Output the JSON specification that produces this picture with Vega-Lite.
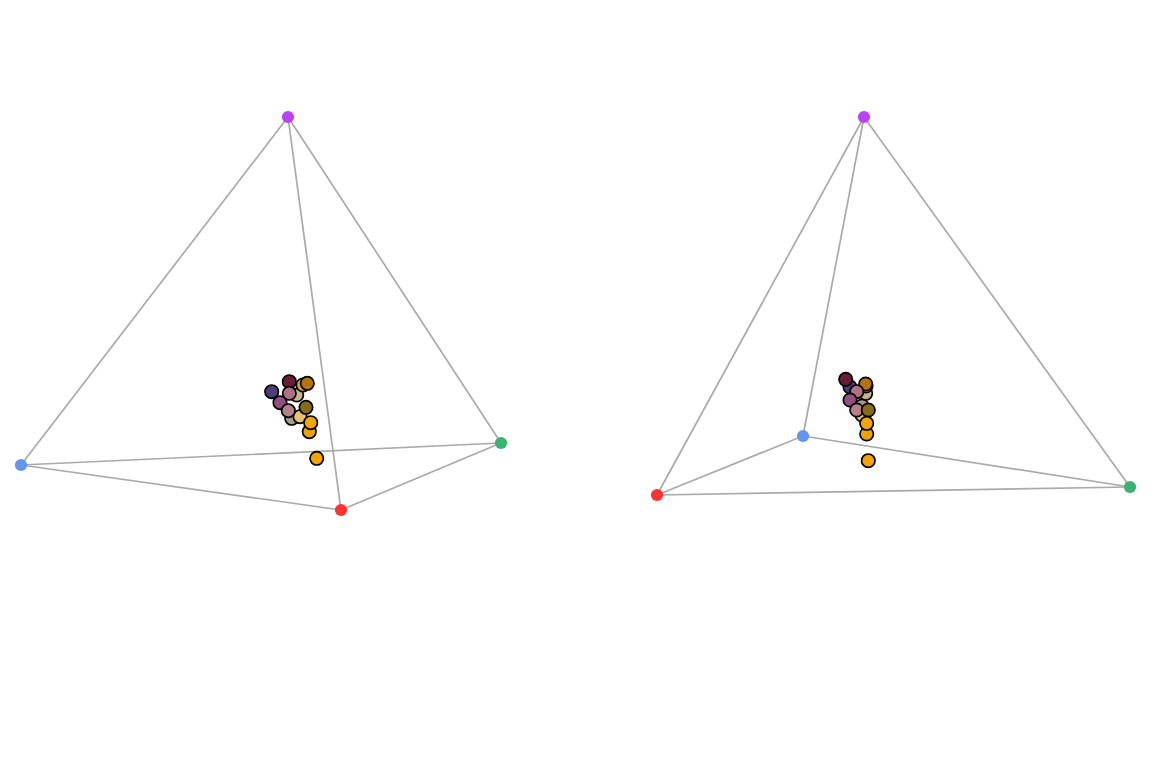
{
  "$schema": "https://vega.github.io/schema/vega-lite/v6.json",
  "padding": 0,
  "background": "white",
  "spacing": 0,
  "config": {"view": {"stroke": null}, "concat": {"spacing": 0}},
  "datasets": {
    "edges": [
      {"panel": 1, "x": 288, "y": 117, "x2": 21, "y2": 465},
      {"panel": 1, "x": 288, "y": 117, "x2": 341, "y2": 510},
      {"panel": 1, "x": 288, "y": 117, "x2": 501, "y2": 443},
      {"panel": 1, "x": 21, "y": 465, "x2": 341, "y2": 510},
      {"panel": 1, "x": 21, "y": 465, "x2": 501, "y2": 443},
      {"panel": 1, "x": 341, "y": 510, "x2": 501, "y2": 443},
      {"panel": 2, "x": 864, "y": 117, "x2": 657, "y2": 495},
      {"panel": 2, "x": 864, "y": 117, "x2": 803, "y2": 436},
      {"panel": 2, "x": 864, "y": 117, "x2": 1130, "y2": 487},
      {"panel": 2, "x": 657, "y": 495, "x2": 803, "y2": 436},
      {"panel": 2, "x": 803, "y": 436, "x2": 1130, "y2": 487},
      {"panel": 2, "x": 657, "y": 495, "x2": 1130, "y2": 487}
    ],
    "vertices": [
      {"panel": 1, "name": "purple", "x": 288, "y": 117, "color": "#b845f5"},
      {"panel": 1, "name": "blue", "x": 21, "y": 465, "color": "#6495ed"},
      {"panel": 1, "name": "red", "x": 341, "y": 510, "color": "#ff3333"},
      {"panel": 1, "name": "green", "x": 501, "y": 443, "color": "#3cb371"},
      {"panel": 2, "name": "purple", "x": 864, "y": 117, "color": "#b845f5"},
      {"panel": 2, "name": "blue", "x": 803, "y": 436, "color": "#6495ed"},
      {"panel": 2, "name": "red", "x": 657, "y": 495, "color": "#ff3333"},
      {"panel": 2, "name": "green", "x": 1130, "y": 487, "color": "#3cb371"}
    ],
    "points": [
      {"panel": 1, "id": 6, "x": 296.7, "y": 395, "color": "#c9b48a"},
      {"panel": 1, "id": 11, "x": 291.7, "y": 418.3, "color": "#a89b8a"},
      {"panel": 1, "id": 4, "x": 303, "y": 385, "color": "#d9a52e"},
      {"panel": 1, "id": 1, "x": 271.7, "y": 391.7, "color": "#4e3d7a"},
      {"panel": 1, "id": 2, "x": 289.3, "y": 381.7, "color": "#6a1b35"},
      {"panel": 1, "id": 3, "x": 307.3, "y": 383.3, "color": "#b5730d"},
      {"panel": 1, "id": 5, "x": 289.3, "y": 393.3, "color": "#b07282"},
      {"panel": 1, "id": 7, "x": 280, "y": 402.7, "color": "#93507e"},
      {"panel": 1, "id": 10, "x": 300, "y": 416.7, "color": "#e8c070"},
      {"panel": 1, "id": 8, "x": 288.3, "y": 410.7, "color": "#b77f8c"},
      {"panel": 1, "id": 9, "x": 306, "y": 407.3, "color": "#866b12"},
      {"panel": 1, "id": 13, "x": 309.3, "y": 431.7, "color": "#eda200"},
      {"panel": 1, "id": 12, "x": 310.7, "y": 422.7, "color": "#f2a600"},
      {"panel": 1, "id": 14, "x": 316.7, "y": 458.3, "color": "#f4a300"},
      {"panel": 2, "id": 6, "x": 865.7, "y": 393.3, "color": "#c9b48a"},
      {"panel": 2, "id": 11, "x": 862, "y": 406, "color": "#a89b8a"},
      {"panel": 2, "id": 4, "x": 866, "y": 386, "color": "#d9a52e"},
      {"panel": 2, "id": 1, "x": 850, "y": 387, "color": "#4e3d7a"},
      {"panel": 2, "id": 2, "x": 845.7, "y": 379.3, "color": "#6a1b35"},
      {"panel": 2, "id": 3, "x": 865.7, "y": 384, "color": "#b5730d"},
      {"panel": 2, "id": 5, "x": 856.7, "y": 391.7, "color": "#b07282"},
      {"panel": 2, "id": 7, "x": 850, "y": 400, "color": "#93507e"},
      {"panel": 2, "id": 10, "x": 862, "y": 415, "color": "#e8c070"},
      {"panel": 2, "id": 8, "x": 856.7, "y": 410, "color": "#b77f8c"},
      {"panel": 2, "id": 9, "x": 868.3, "y": 410, "color": "#866b12"},
      {"panel": 2, "id": 13, "x": 866.7, "y": 434, "color": "#eda200"},
      {"panel": 2, "id": 12, "x": 866.7, "y": 423.3, "color": "#f2a600"},
      {"panel": 2, "id": 14, "x": 868.3, "y": 460.7, "color": "#f4a300"}
    ]
  },
  "hconcat": [
    {
      "width": 576,
      "height": 768,
      "encoding": {
        "x": {"field": "x", "type": "quantitative", "scale": {"domain": [0, 576], "nice": false, "zero": false}, "axis": null},
        "y": {"field": "y", "type": "quantitative", "scale": {"domain": [0, 768], "reverse": true, "nice": false, "zero": false}, "axis": null}
      },
      "layer": [
        {
          "data": {"name": "edges"},
          "transform": [{"filter": "datum.panel == 1"}],
          "mark": {"type": "rule", "color": "#aaaaaa", "strokeWidth": 1.7},
          "encoding": {
            "x2": {"field": "x2"},
            "y2": {"field": "y2"}
          }
        },
        {
          "data": {"name": "points"},
          "transform": [{"filter": "datum.panel == 1"}],
          "mark": {"type": "circle", "size": 180, "opacity": 1, "stroke": "black", "strokeWidth": 1.7},
          "encoding": {
            "fill": {"field": "color", "type": "nominal", "scale": null}
          }
        },
        {
          "data": {"name": "vertices"},
          "transform": [{"filter": "datum.panel == 1"}],
          "mark": {"type": "circle", "size": 150, "opacity": 1},
          "encoding": {
            "fill": {"field": "color", "type": "nominal", "scale": null}
          }
        }
      ]
    },
    {
      "width": 576,
      "height": 768,
      "encoding": {
        "x": {"field": "x", "type": "quantitative", "scale": {"domain": [576, 1152], "nice": false, "zero": false}, "axis": null},
        "y": {"field": "y", "type": "quantitative", "scale": {"domain": [0, 768], "reverse": true, "nice": false, "zero": false}, "axis": null}
      },
      "layer": [
        {
          "data": {"name": "edges"},
          "transform": [{"filter": "datum.panel == 2"}],
          "mark": {"type": "rule", "color": "#aaaaaa", "strokeWidth": 1.7},
          "encoding": {
            "x2": {"field": "x2"},
            "y2": {"field": "y2"}
          }
        },
        {
          "data": {"name": "points"},
          "transform": [{"filter": "datum.panel == 2"}],
          "mark": {"type": "circle", "size": 180, "opacity": 1, "stroke": "black", "strokeWidth": 1.7},
          "encoding": {
            "fill": {"field": "color", "type": "nominal", "scale": null}
          }
        },
        {
          "data": {"name": "vertices"},
          "transform": [{"filter": "datum.panel == 2"}],
          "mark": {"type": "circle", "size": 150, "opacity": 1},
          "encoding": {
            "fill": {"field": "color", "type": "nominal", "scale": null}
          }
        }
      ]
    }
  ]
}
